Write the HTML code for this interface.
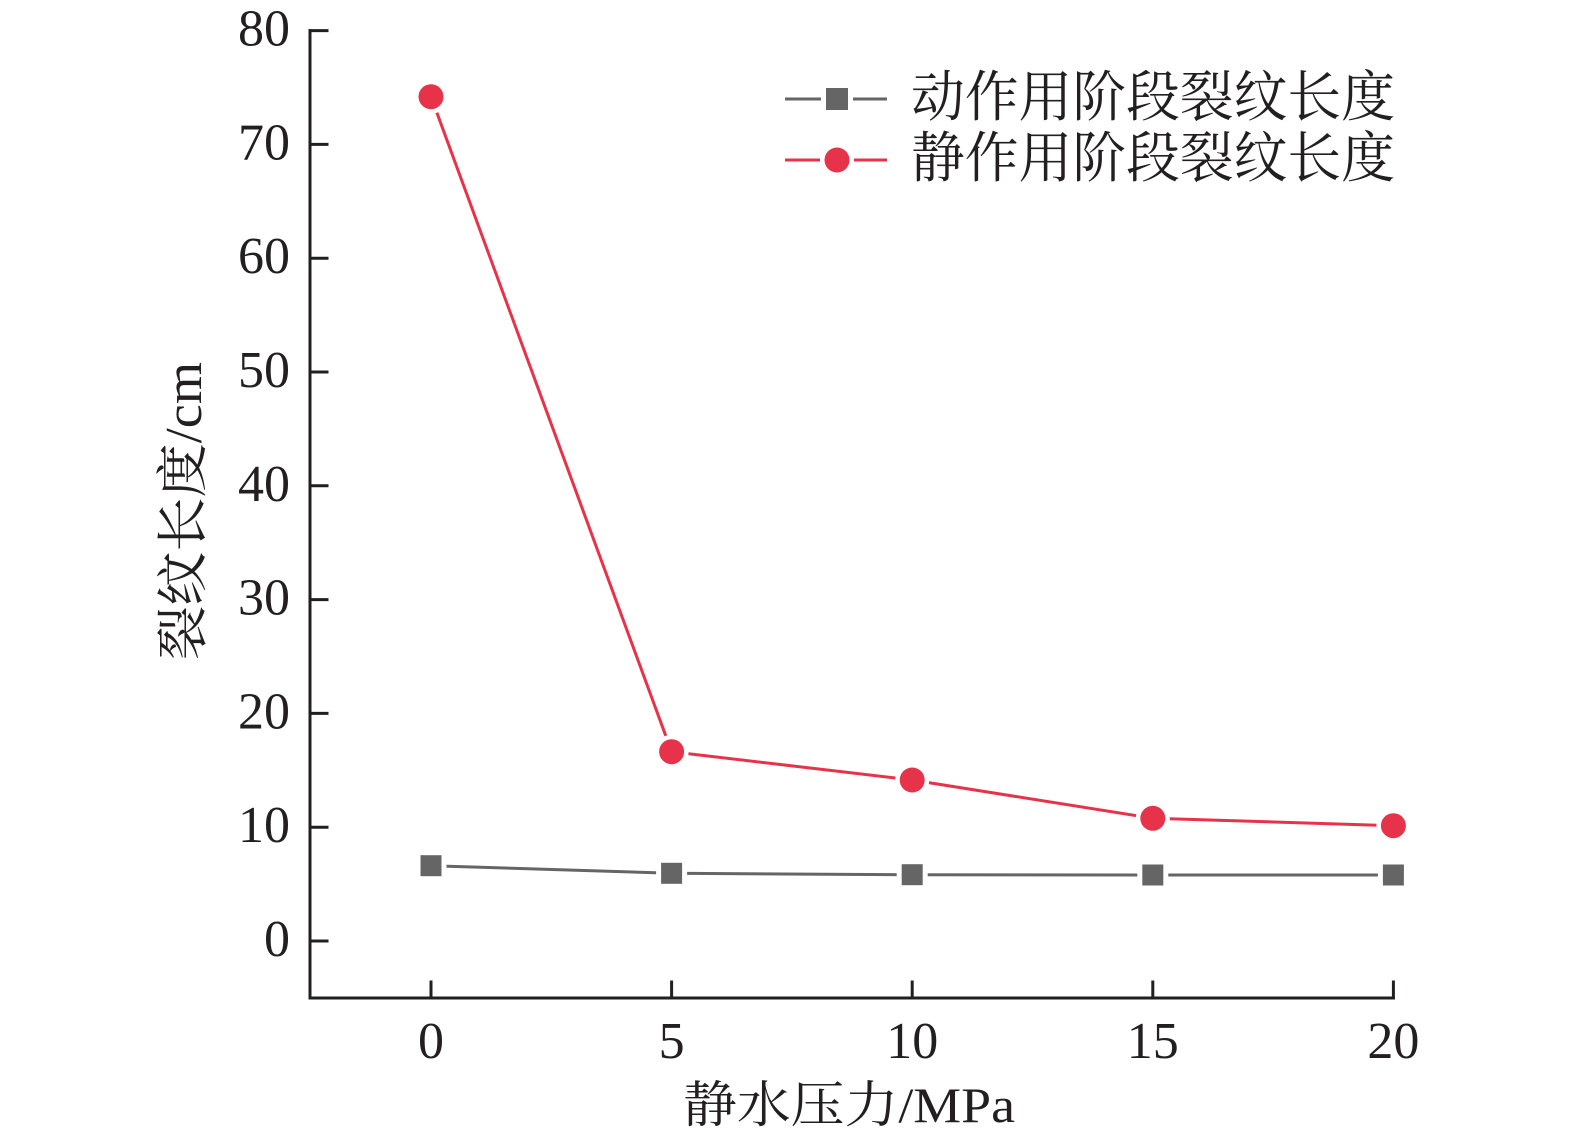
<!DOCTYPE html>
<html>
<head>
<meta charset="utf-8">
<style>
  html,body{margin:0;padding:0;background:#fff;}
  svg{display:block;}
  .tick{font-family:"Liberation Serif","Noto Serif CJK SC",serif;font-size:52px;fill:#231f20;}
  .cjk{font-family:"Liberation Serif","Noto Serif CJK SC",serif;fill:#231f20;}
</style>
</head>
<body>
<svg width="1575" height="1143" viewBox="0 0 1575 1143" xmlns="http://www.w3.org/2000/svg">
  <rect width="1575" height="1143" fill="#fff"/>

  <!-- axes -->
  <g stroke="#231f20" stroke-width="3" fill="none" stroke-linecap="square">
    <line x1="310" y1="30.6" x2="310" y2="998"/>
    <line x1="310" y1="998" x2="1393.4" y2="998"/>
    <!-- y ticks -->
    <line x1="310" y1="941" x2="327" y2="941"/>
    <line x1="310" y1="827.2" x2="327" y2="827.2"/>
    <line x1="310" y1="713.4" x2="327" y2="713.4"/>
    <line x1="310" y1="599.6" x2="327" y2="599.6"/>
    <line x1="310" y1="485.8" x2="327" y2="485.8"/>
    <line x1="310" y1="372" x2="327" y2="372"/>
    <line x1="310" y1="258.2" x2="327" y2="258.2"/>
    <line x1="310" y1="144.4" x2="327" y2="144.4"/>
    <line x1="310" y1="30.6" x2="327" y2="30.6"/>
    <!-- x ticks -->
    <line x1="431" y1="998" x2="431" y2="982"/>
    <line x1="671.6" y1="998" x2="671.6" y2="982"/>
    <line x1="912.2" y1="998" x2="912.2" y2="982"/>
    <line x1="1152.8" y1="998" x2="1152.8" y2="982"/>
    <line x1="1393.4" y1="998" x2="1393.4" y2="982"/>
  </g>

  <!-- y tick labels -->
  <g class="tick" text-anchor="end">
    <text x="290" y="956">0</text>
    <text x="290" y="842.2">10</text>
    <text x="290" y="728.4">20</text>
    <text x="290" y="614.6">30</text>
    <text x="290" y="500.8">40</text>
    <text x="290" y="387">50</text>
    <text x="290" y="273.2">60</text>
    <text x="290" y="159.4">70</text>
    <text x="290" y="45.6">80</text>
  </g>

  <!-- x tick labels -->
  <g class="tick" text-anchor="middle">
    <text x="431" y="1058">0</text>
    <text x="671.6" y="1058">5</text>
    <text x="912.2" y="1058">10</text>
    <text x="1152.8" y="1058">15</text>
    <text x="1393.4" y="1058">20</text>
  </g>

  <!-- axis titles -->
  <text class="cjk" x="683" y="1122" font-size="50" textLength="332" lengthAdjust="spacingAndGlyphs">静水压力/MPa</text>
  <text class="cjk" font-size="52" text-anchor="middle" transform="translate(201,511) rotate(-90)" textLength="298" lengthAdjust="spacingAndGlyphs">裂纹长度/cm</text>

  <!-- gray series -->
  <polyline points="431,865.7 671.6,873.3 912.2,874.7 1152.8,875 1393.4,875" fill="none" stroke="#656565" stroke-width="3"/>
  <g fill="#656565" stroke="#fff" stroke-width="10" paint-order="stroke">
    <rect x="420.5" y="855.2" width="21" height="21"/>
    <rect x="661.1" y="862.8" width="21" height="21"/>
    <rect x="901.7" y="864.2" width="21" height="21"/>
    <rect x="1142.3" y="864.5" width="21" height="21"/>
    <rect x="1382.9" y="864.5" width="21" height="21"/>
  </g>

  <!-- red series -->
  <polyline points="431,96.7 671.6,751.7 912.2,780 1152.8,818.3 1393.4,825.7" fill="none" stroke="#e6334a" stroke-width="3"/>
  <g fill="#e6334a" stroke="#fff" stroke-width="9" paint-order="stroke">
    <circle cx="431" cy="96.7" r="12.5"/>
    <circle cx="671.6" cy="751.7" r="12.5"/>
    <circle cx="912.2" cy="780" r="12.5"/>
    <circle cx="1152.8" cy="818.3" r="12.5"/>
    <circle cx="1393.4" cy="825.7" r="12.5"/>
  </g>

  <!-- legend -->
  <line x1="785" y1="99" x2="887" y2="99" stroke="#656565" stroke-width="3"/>
  <rect x="826" y="88" width="22" height="22" fill="#656565" stroke="#fff" stroke-width="10" paint-order="stroke"/>
  <line x1="785" y1="160" x2="887" y2="160" stroke="#e6334a" stroke-width="3"/>
  <circle cx="837" cy="160" r="12.5" fill="#e6334a" stroke="#fff" stroke-width="9" paint-order="stroke"/>

  <text class="cjk" x="911" y="116" font-size="55" textLength="484" lengthAdjust="spacingAndGlyphs">动作用阶段裂纹长度</text>
  <text class="cjk" x="911" y="177" font-size="55" textLength="484" lengthAdjust="spacingAndGlyphs">静作用阶段裂纹长度</text>
</svg>
</body>
</html>
